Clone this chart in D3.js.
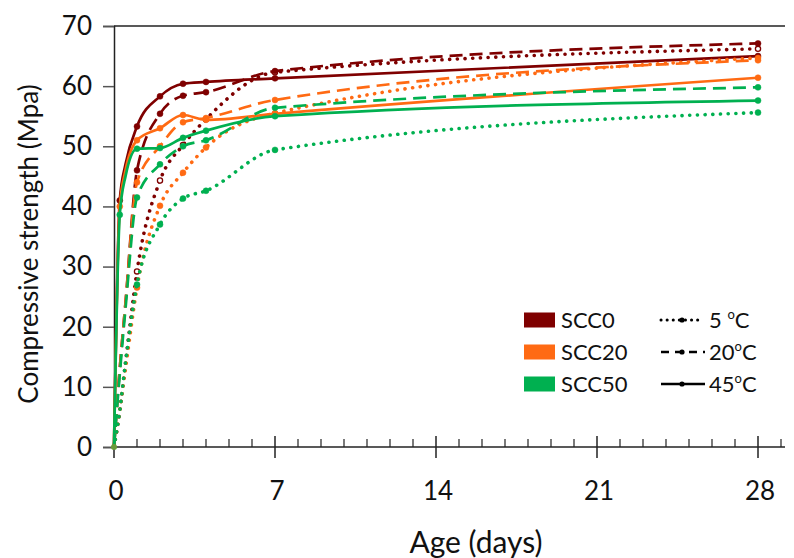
<!DOCTYPE html>
<html>
<head>
<meta charset="utf-8">
<script src="https://cdn.jsdelivr.net/npm/d3@7"></script>
<style>
  html, body { margin: 0; padding: 0; background: #ffffff; }
  svg { display: block; font-family: Lato, "Open Sans", sans-serif; }
</style>
</head>
<body>
<svg id="chart" width="794" height="558"></svg>
<script>
// ---------------- data ----------------
const ages = [0, 0.25, 0.5, 1, 2, 3, 4, 7, 28];           // days
const mixes = ["SCC0", "SCC20", "SCC50"];
const temps = ["5", "20", "45"];                           // °C
const xTicks = [0, 7, 14, 21, 28];
const yTicks = [0, 10, 20, 30, 40, 50, 60, 70];

const scc0_5   = [0, 6, 14, 29.2, 44.3, 50.2, 54.5, 62.3, 66.2];
const scc0_20  = [0, 13, 24, 46.0, 55.4, 58.4, 59.0, 62.5, 67.1];
const scc0_45  = [0, 41, 47, 53.3, 58.3, 60.4, 60.7, 61.3, 65.0];
const scc20_5  = [0, 6, 13, 26.5, 40.1, 45.6, 49.8, 55.5, 64.7];
const scc20_20 = [0, 13, 24, 44.0, 50.0, 54.0, 54.7, 57.7, 64.3];
const scc20_45 = [0, 40, 46, 51.0, 53.0, 55.2, 54.4, 55.4, 61.4];
const scc50_5  = [0, 6, 14, 27.0, 37.0, 41.3, 42.6, 49.4, 55.6];
const scc50_20 = [0, 12, 23, 41.5, 47.0, 50.0, 51.0, 56.4, 59.8];
const scc50_45 = [0, 38.6, 45, 49.6, 49.7, 51.4, 52.6, 55.0, 57.6];

const mixColors = ["#7F0000", "#FF6A13", "#00B050"];

const seriesList = [
  { mix: 0, temp: 0, values: scc0_5 },
  { mix: 0, temp: 1, values: scc0_20 },
  { mix: 0, temp: 2, values: scc0_45 },
  { mix: 1, temp: 0, values: scc20_5 },
  { mix: 1, temp: 1, values: scc20_20 },
  { mix: 1, temp: 2, values: scc20_45 },
  { mix: 2, temp: 0, values: scc50_5 },
  { mix: 2, temp: 1, values: scc50_20 },
  { mix: 2, temp: 2, values: scc50_45 }
];

// ---------------- layout ----------------
const svg = d3.select("#chart");
const pLeft = 114, pRight = 785, pTop = 26, pBottom = 447;
const x = d3.scaleLinear().domain([0, 28]).range([pLeft, 758]);
const y = d3.scaleLinear().domain([0, 70]).range([pBottom, pTop]);

const styles = [
  { width: 3.6, dash: "0.1 7.6", cap: "round" },   // 5 °C dotted
  { width: 2.7, dash: "13 7", cap: "butt" },       // 20 °C dashed
  { width: 2.7, dash: null, cap: "butt" }          // 45 °C solid
];

// top border
svg.append("line").attr("x1", pLeft).attr("x2", pRight).attr("y1", pTop).attr("y2", pTop)
  .attr("stroke", "#222").attr("stroke-width", 1.5);

// y axis
const yAxis = d3.axisLeft(y).tickValues(yTicks).tickSize(11).tickPadding(11);
const gy = svg.append("g").attr("transform", `translate(${pLeft},0)`).call(yAxis);
gy.select(".domain").attr("stroke", "#222").attr("stroke-width", 1.5);
gy.selectAll(".tick line").attr("stroke", "#555").attr("stroke-width", 1.5);
gy.selectAll("text").attr("font-size", 26).attr("fill", "#111")
  .attr("font-family", "Lato, sans-serif");

// x axis: minor ticks inward each day, major ticks crossing
const gx = svg.append("g");
gx.append("line").attr("x1", pLeft).attr("x2", pRight).attr("y1", pBottom).attr("y2", pBottom)
  .attr("stroke", "#222").attr("stroke-width", 1.5);
const minor = d3.range(1, 30).filter(d => d % 7 !== 0);
gx.selectAll(".minor").data(minor).join("line")
  .attr("x1", d => x(d)).attr("x2", d => x(d))
  .attr("y1", pBottom - 8).attr("y2", pBottom)
  .attr("stroke", "#222").attr("stroke-width", 1.2);
gx.selectAll(".major").data(xTicks).join("line")
  .attr("x1", d => x(d)).attr("x2", d => x(d))
  .attr("y1", pBottom - 11).attr("y2", pBottom + 11)
  .attr("stroke", "#222").attr("stroke-width", 1.5);
gx.selectAll(".lab").data(xTicks).join("text")
  .attr("x", d => x(d) + 2).attr("y", 500)
  .attr("text-anchor", "middle").attr("font-size", 26).attr("fill", "#111")
  .text(d => d);

// axis titles
svg.append("text").attr("x", 476).attr("y", 553).attr("text-anchor", "middle")
  .attr("font-size", 30).attr("fill", "#111").text("Age (days)");
svg.append("text").attr("transform", "translate(38,244) rotate(-90)")
  .attr("text-anchor", "middle").attr("font-size", 26).attr("fill", "#111")
  .text("Compressive strength (Mpa)");

// ---------------- series ----------------
const line = d3.line()
  .x(d => x(d[0])).y(d => y(d[1]))
  .curve(d3.curveMonotoneX);

const gs = svg.append("g");
seriesList.forEach(s => {
  const pts = ages.map((a, i) => [a, s.values[i]]);
  const st = styles[s.temp];
  const col = mixColors[s.mix];
  gs.append("path").datum(pts)
    .attr("d", line)
    .attr("fill", "none")
    .attr("stroke", col)
    .attr("stroke-width", st.width)
    .attr("stroke-linecap", st.cap)
    .attr("stroke-dasharray", st.dash);
  const open = (s.mix === 0 && s.temp === 0);
  // markers: early (<1 day) markers only visible on the 45 °C series
  const shown = pts.filter(p => p[0] >= 1 || (s.temp === 2 && p[0] === 0.25));
  gs.selectAll(null).data(shown).join("circle")
    .attr("cx", d => x(d[0])).attr("cy", d => y(d[1]))
    .attr("r", open ? 2.6 : 3)
    .attr("fill", open ? "#fff" : col)
    .attr("stroke", col).attr("stroke-width", open ? 1.3 : 0.5);
});
// origin marker
svg.append("circle").attr("cx", x(0)).attr("cy", y(0)).attr("r", 3).attr("fill", "#6a9a3a");

// ---------------- legend ----------------
const rows = [320, 352, 384];
const lg = svg.append("g");
mixes.forEach((m, i) => {
  lg.append("rect").attr("x", 524).attr("y", rows[i] - 7.5).attr("width", 31).attr("height", 15)
    .attr("fill", mixColors[i]);
  lg.append("text").attr("x", 561).attr("y", rows[i] + 8).attr("font-size", 22)
    .attr("fill", "#111").text(m);
});
const lineEnds = [698, 705, 705];
temps.forEach((t, i) => {
  const st = styles[i];
  lg.append("line").attr("x1", 661).attr("x2", lineEnds[i]).attr("y1", rows[i]).attr("y2", rows[i])
    .attr("stroke", "#000").attr("stroke-width", i === 0 ? 3 : 2.4)
    .attr("stroke-linecap", st.cap)
    .attr("stroke-dasharray", i === 0 ? "0.1 6" : (i === 1 ? "8 6" : null));
  lg.append("circle").attr("cx", 682).attr("cy", rows[i]).attr("r", 2.6).attr("fill", "#000");
  const tx = lg.append("text").attr("x", 709).attr("y", rows[i] + 8).attr("font-size", 22).attr("fill", "#111");
  tx.append("tspan").text(t + (i === 0 ? " " : ""));
  tx.append("tspan").attr("dy", -9).attr("font-size", 13).text("o");
  tx.append("tspan").attr("dy", 9).text("C");
});
</script>
</body>
</html>
